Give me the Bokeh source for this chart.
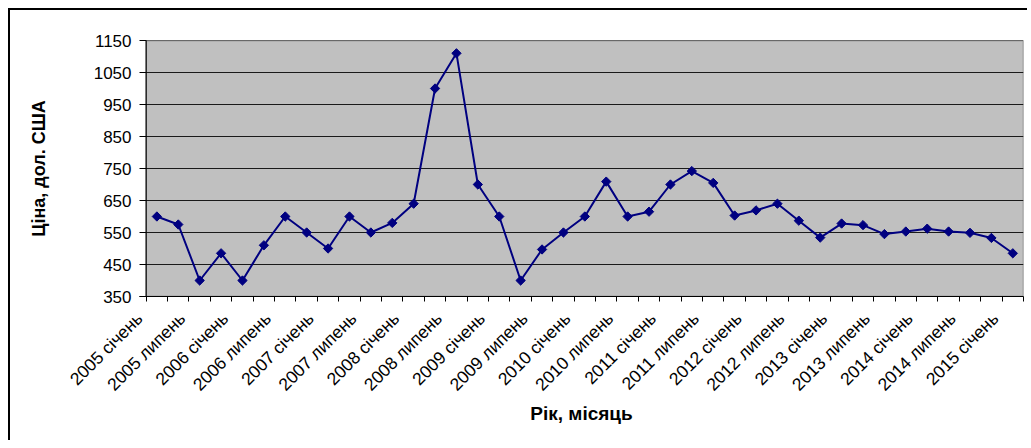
from math import pi
from bokeh.plotting import figure
from bokeh.models import FixedTicker, Range1d
from bokeh.embed import file_html
from bokeh.resources import INLINE

# ---- data ----
tick_labels = ["2005 січень", "2005 липень", "2006 січень", "2006 липень",
               "2007 січень", "2007 липень", "2008 січень", "2008 липень",
               "2009 січень", "2009 липень", "2010 січень", "2010 липень",
               "2011 січень", "2011 липень", "2012 січень", "2012 липень",
               "2013 січень", "2013 липень", "2014 січень", "2014 липень",
               "2015 січень"]
prices = [600, 575, 400, 485, 400, 510, 600, 550, 500, 600,
          550, 580, 640, 1000, 1110, 700, 600, 400, 497, 550,
          600, 709, 600, 615, 700, 742, 705, 603, 619, 640,
          587, 534, 578, 573, 545, 553, 562, 553, 549, 533, 485]
y_ticks = [350, 450, 550, 650, 750, 850, 950, 1050, 1150]
y_title = "Ціна, дол. США"
x_title = "Рік, місяць"

# ---- layout helpers ----
N = len(prices)
xs = list(range(N))
LEFT, RIGHT = -0.5, N - 0.5          # category-axis edges
SHIFT = 0.8125                        # Excel-like anchoring of the rotated labels
label_pos = [i - SHIFT for i in range(0, N, 2)]
boundaries = [i - 0.5 for i in range(N + 1)]
Y0, Y1 = y_ticks[0], y_ticks[-1]

FONT = "Liberation Sans"

p = figure(width=1019, height=432, output_backend="svg", toolbar_location=None,
           x_range=Range1d(LEFT - (SHIFT - 0.5), RIGHT), y_range=Range1d(Y0, Y1),
           min_border_left=129, min_border_right=6, min_border_top=30, min_border_bottom=146)
p.styles = {"margin-left": "10px", "margin-top": "10px",
            "box-shadow": "-2px -2px 0px 0px #000000"}

p.background_fill_color = "white"
p.border_fill_color = "white"
p.outline_line_color = None

# plot area (grey), gridlines and value-axis line
p.quad(left=LEFT, right=RIGHT, bottom=Y0, top=Y1, fill_color="#C0C0C0",
       line_color="#808080", line_width=1.5)
p.segment(x0=LEFT, x1=RIGHT, y0=y_ticks[1:], y1=y_ticks[1:], line_color="#1a1a1a", line_width=1)
p.segment(x0=LEFT, x1=LEFT, y0=Y0, y1=Y1, line_color="black", line_width=1)
p.xgrid.grid_line_color = None
p.ygrid.grid_line_color = None

# y axis (ticks reach in to the plot-area edge)
p.yaxis.ticker = FixedTicker(ticks=y_ticks)
p.yaxis.axis_line_color = None
p.yaxis.major_tick_line_color = "black"
p.yaxis.major_tick_out = 0
p.yaxis.major_tick_in = 7
p.yaxis.minor_tick_line_color = None
p.yaxis.major_label_text_font = FONT
p.yaxis.major_label_text_font_size = "17px"
p.yaxis.major_label_text_color = "black"
p.yaxis.major_label_standoff = 8
p.yaxis.axis_label = y_title
p.yaxis.axis_label_text_font = FONT
p.yaxis.axis_label_text_font_style = "bold"
p.yaxis.axis_label_text_font_size = "18px"
p.yaxis.axis_label_text_color = "black"
p.yaxis.axis_label_standoff = 42

# x axis: boundary tick marks, rotated category labels
p.xaxis.ticker = FixedTicker(ticks=label_pos, minor_ticks=boundaries)
p.xaxis.major_label_overrides = {pos: lab for pos, lab in zip(label_pos, tick_labels)}
p.xaxis.axis_line_color = "black"
p.xaxis.major_tick_line_color = None
p.xaxis.major_tick_out = 0
p.xaxis.major_tick_in = 0
p.xaxis.minor_tick_line_color = "black"
p.xaxis.minor_tick_out = 5
p.xaxis.minor_tick_in = 0
p.xaxis.major_label_orientation = pi / 4
p.xaxis.major_label_text_font = FONT
p.xaxis.major_label_text_font_size = "17.5px"
p.xaxis.major_label_text_color = "black"
p.xaxis.major_label_standoff = 14
p.xaxis.axis_label = x_title
p.xaxis.axis_label_text_font = FONT
p.xaxis.axis_label_text_font_style = "bold"
p.xaxis.axis_label_text_font_size = "19px"
p.xaxis.axis_label_text_color = "black"
p.xaxis.axis_label_standoff = -2

# series
p.line(xs, prices, line_color="#000080", line_width=2)
p.scatter(xs, prices, marker="square", angle=pi / 4, size=6.6,
          fill_color="#000080", line_color="#000080")

open("out.html", "w").write(file_html(p, INLINE))
